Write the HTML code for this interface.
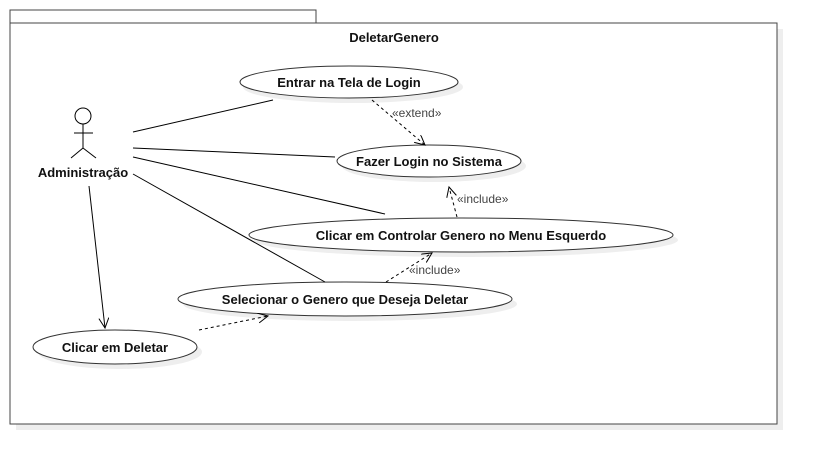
<!DOCTYPE html>
<html><head><meta charset="utf-8"><style>
body{margin:0;background:#fff;}
svg text{font-family:"Liberation Sans",sans-serif;font-size:13px;fill:#111;}
.b{font-weight:bold;}
</style></head><body>
<svg width="817" height="465" viewBox="0 0 817 465">
<defs>
<marker id="ar" markerWidth="12" markerHeight="12" refX="10" refY="5" orient="auto" markerUnits="userSpaceOnUse">
<path d="M0,0 L10,5 L0,10" fill="none" stroke="#000" stroke-width="1"/></marker>
</defs>
<g>
<rect x="16" y="29" width="767" height="401" fill="#eee"/>
<rect x="10" y="10" width="306" height="13" fill="#fff" stroke="#444"/>
<rect x="10" y="23" width="767" height="401" fill="#fff" stroke="#444"/>
<text class="b" x="394" y="42" text-anchor="middle">DeletarGenero</text>
</g>
<g fill="#eee">
<ellipse cx="353" cy="87" rx="110" ry="16"/>
<ellipse cx="434" cy="166" rx="92" ry="16"/>
<ellipse cx="466" cy="240" rx="212" ry="17"/>
<ellipse cx="350" cy="304" rx="167" ry="17"/>
<ellipse cx="120" cy="352" rx="82" ry="17"/>
</g>
<g fill="#fff" stroke="#333">
<ellipse cx="349" cy="82" rx="109" ry="16"/>
<ellipse cx="429" cy="161" rx="92" ry="16"/>
<ellipse cx="461" cy="235" rx="212" ry="17"/>
<ellipse cx="345" cy="299" rx="167" ry="17"/>
<ellipse cx="115" cy="347" rx="82" ry="17"/>
</g>
<g class="b">
<text class="b" x="349" y="87" text-anchor="middle">Entrar na Tela de Login</text>
<text class="b" x="429" y="166" text-anchor="middle">Fazer Login no Sistema</text>
<text class="b" x="461" y="240" text-anchor="middle">Clicar em Controlar Genero no Menu Esquerdo</text>
<text class="b" x="345" y="304" text-anchor="middle">Selecionar o Genero que Deseja Deletar</text>
<text class="b" x="115" y="352" text-anchor="middle">Clicar em Deletar</text>
</g>
<g stroke="#000" fill="#fff">
<circle cx="83" cy="116" r="8"/>
<line x1="83" y1="124" x2="83" y2="148"/>
<line x1="74" y1="133" x2="93" y2="133"/>
<line x1="83" y1="148" x2="71" y2="158"/>
<line x1="83" y1="148" x2="96" y2="158"/>
</g>
<text class="b" x="83" y="177" text-anchor="middle">Administração</text>
<g stroke="#000" fill="none">
<line x1="133" y1="132" x2="273" y2="100"/>
<line x1="133" y1="148" x2="335" y2="157"/>
<line x1="133" y1="157" x2="385" y2="214"/>
<line x1="133" y1="174" x2="325" y2="282"/>
<line x1="89" y1="186" x2="105" y2="328" marker-end="url(#ar)"/>
</g>
<g stroke="#000" fill="none" stroke-dasharray="3,3">
<line x1="372" y1="100" x2="425" y2="145" marker-end="url(#ar)"/>
<line x1="457" y1="217" x2="449" y2="187" marker-end="url(#ar)"/>
<line x1="386" y1="282" x2="432" y2="253" marker-end="url(#ar)"/>
<line x1="199" y1="330" x2="268" y2="316" marker-end="url(#ar)"/>
</g>
<g fill="#444">
<text x="392" y="117" style="fill:#444;font-size:12px">«extend»</text>
<text x="457" y="203" style="fill:#444;font-size:12px">«include»</text>
<text x="409" y="274" style="fill:#444;font-size:12px">«include»</text>
</g>
</svg>
</body></html>
